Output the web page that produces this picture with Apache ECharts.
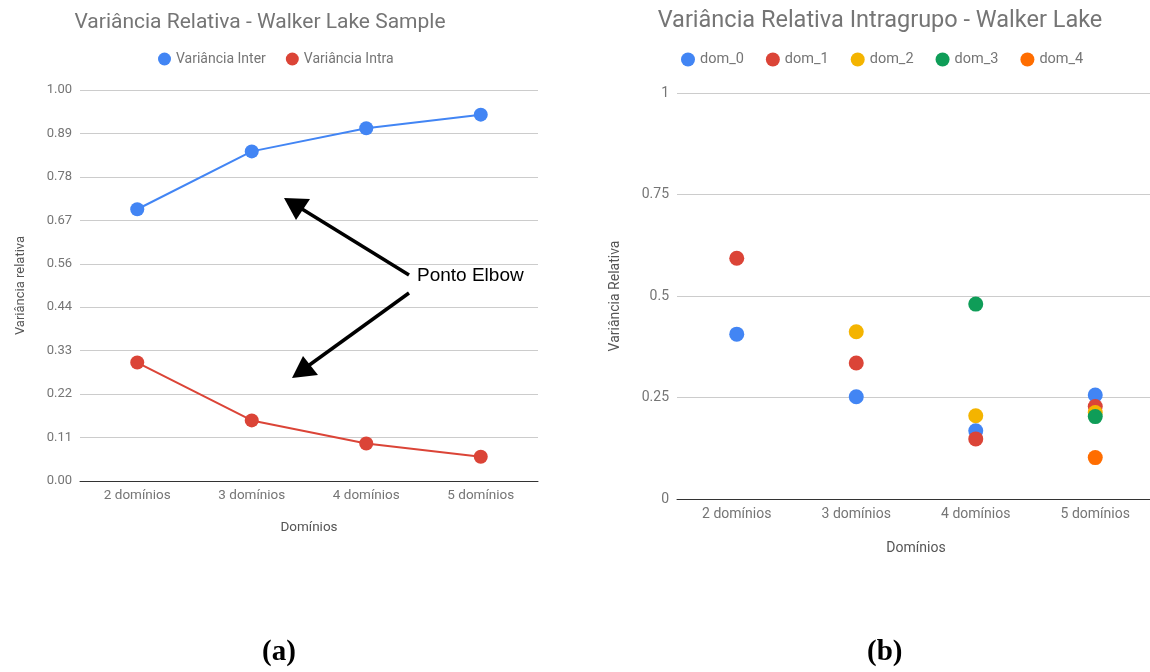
<!DOCTYPE html>
<html>
<head>
<meta charset="utf-8">
<script src="https://cdn.jsdelivr.net/npm/echarts@6/dist/echarts.min.js"></script>
<style>
html,body{margin:0;padding:0;background:#fff;overflow:hidden;}
#c{width:1160px;height:672px;}
</style>
</head>
<body>
<div id="c"></div>
<script>
const categories = ['2 domínios', '3 domínios', '4 domínios', '5 domínios'];
const varInter = [0.695, 0.843, 0.902, 0.937];
const varIntra = [0.303, 0.155, 0.096, 0.062];
const dom0 = [0.406, 0.252, 0.168, 0.256];
const dom1 = [0.593, 0.335, 0.148, 0.228];
const dom2 = [null, 0.412, 0.205, 0.213];
const dom3 = [null, null, 0.480, 0.203];
const dom4 = [null, null, null, 0.102];
const leftTicks = [0, 0.11, 0.22, 0.33, 0.44, 0.56, 0.67, 0.78, 0.89, 1.00];

const FONT = 'Roboto';
const GREY = '#757575';
const C = {blue:'#4285F4', red:'#DB4437', yellow:'#F4B400', green:'#0F9D58', orange:'#FF6D00'};

const chart = echarts.init(document.getElementById('c'));

function xAx(gridIndex, fs, gap){
  return {
    type:'category', gridIndex, data:categories, boundaryGap:true,
    name:'Domínios', nameLocation:'middle', nameGap:gap,
    nameTextStyle:{color:'#555', fontFamily:FONT, fontSize:fs},
    axisLine:{lineStyle:{color:'#333', width:1}},
    axisTick:{show:false},
    axisLabel:{color:GREY, fontFamily:FONT, fontSize:fs, margin:8},
    splitLine:{show:false}
  };
}

const option = {
  animation:false,
  backgroundColor:'#fff',
  title:[
    {text:'Variância Relativa - Walker Lake Sample', left:255, top:7, textAlign:'center',
     textStyle:{color:GREY, fontFamily:FONT, fontSize:21, fontWeight:'normal'}},
    {text:'Variância Relativa Intragrupo - Walker Lake', left:875, top:4, textAlign:'center',
     textStyle:{color:GREY, fontFamily:FONT, fontSize:23.5, fontWeight:'normal'}}
  ],
  legend:[
    {data:['Variância Inter','Variância Intra'], left:153, top:47, icon:'circle',
     itemWidth:13, itemHeight:13, itemGap:20,
     textStyle:{color:GREY, fontFamily:FONT, fontSize:14}},
    {data:['dom_0','dom_1','dom_2','dom_3','dom_4'], left:676, top:47, icon:'circle',
     itemWidth:14, itemHeight:14, itemGap:22,
     textStyle:{color:GREY, fontFamily:FONT, fontSize:14.5}}
  ],
  grid:[
    {left:80, top:90, width:458, height:391},
    {left:677, top:93, width:478, height:406}
  ],
  xAxis:[xAx(0, 13.5, 40), xAx(1, 14, 42)],
  yAxis:[
    {type:'value', gridIndex:0, min:0, max:1, interval:1/9,
     name:'Variância relativa', nameLocation:'middle', nameGap:53,
     nameTextStyle:{color:'#555', fontFamily:FONT, fontSize:13},
     axisLine:{show:false}, axisTick:{show:false},
     axisLabel:{color:GREY, fontFamily:FONT, fontSize:13, margin:8,
       formatter:(v)=>{ const i=Math.round(v*9); return leftTicks[i]!==undefined? leftTicks[i].toFixed(2): ''; }},
     splitLine:{lineStyle:{color:'#cccccc'}}},
    {type:'value', gridIndex:1, min:0, max:1, interval:0.25,
     name:'Variância Relativa', nameLocation:'middle', nameGap:55,
     nameTextStyle:{color:'#555', fontFamily:FONT, fontSize:14},
     axisLine:{show:false}, axisTick:{show:false},
     axisLabel:{color:GREY, fontFamily:FONT, fontSize:14, margin:8},
     splitLine:{lineStyle:{color:'#cccccc'}}}
  ],
  series:[
    {name:'Variância Inter', type:'line', xAxisIndex:0, yAxisIndex:0, data:varInter,
     symbol:'circle', symbolSize:14, itemStyle:{color:C.blue}, lineStyle:{color:C.blue, width:2}},
    {name:'Variância Intra', type:'line', xAxisIndex:0, yAxisIndex:0, data:varIntra,
     symbol:'circle', symbolSize:14, itemStyle:{color:C.red}, lineStyle:{color:C.red, width:2}},
    {name:'dom_0', type:'scatter', xAxisIndex:1, yAxisIndex:1, data:dom0, symbolSize:15, itemStyle:{color:C.blue, opacity:1}},
    {name:'dom_1', type:'scatter', xAxisIndex:1, yAxisIndex:1, data:dom1, symbolSize:15, itemStyle:{color:C.red, opacity:1}},
    {name:'dom_2', type:'scatter', xAxisIndex:1, yAxisIndex:1, data:dom2, symbolSize:15, itemStyle:{color:C.yellow, opacity:1}},
    {name:'dom_3', type:'scatter', xAxisIndex:1, yAxisIndex:1, data:dom3, symbolSize:15, itemStyle:{color:C.green, opacity:1}},
    {name:'dom_4', type:'scatter', xAxisIndex:1, yAxisIndex:1, data:dom4, symbolSize:15, itemStyle:{color:C.orange, opacity:1}}
  ],
  graphic:[
    {type:'line', shape:{x1:409, y1:275, x2:302, y2:209}, style:{stroke:'#000', lineWidth:3.5}, z:100},
    {type:'polygon', shape:{points:[[284,198],[310,199],[296,220]]}, style:{fill:'#000'}, z:100},
    {type:'line', shape:{x1:409, y1:293, x2:308, y2:366}, style:{stroke:'#000', lineWidth:3.5}, z:100},
    {type:'polygon', shape:{points:[[292,378],[303,356],[318,375]]}, style:{fill:'#000'}, z:100},
    {type:'text', left:417, top:266, style:{text:'Ponto Elbow', fill:'#000', font:'19px "Liberation Sans", Arial, sans-serif'}, z:100},
    {type:'text', left:262, top:638, style:{text:'(a)', fill:'#000', font:'bold 29px "Liberation Serif", "Times New Roman", serif'}},
    {type:'text', left:867, top:638, style:{text:'(b)', fill:'#000', font:'bold 29px "Liberation Serif", "Times New Roman", serif'}}
  ]
};
chart.setOption(option);
</script>
</body>
</html>
